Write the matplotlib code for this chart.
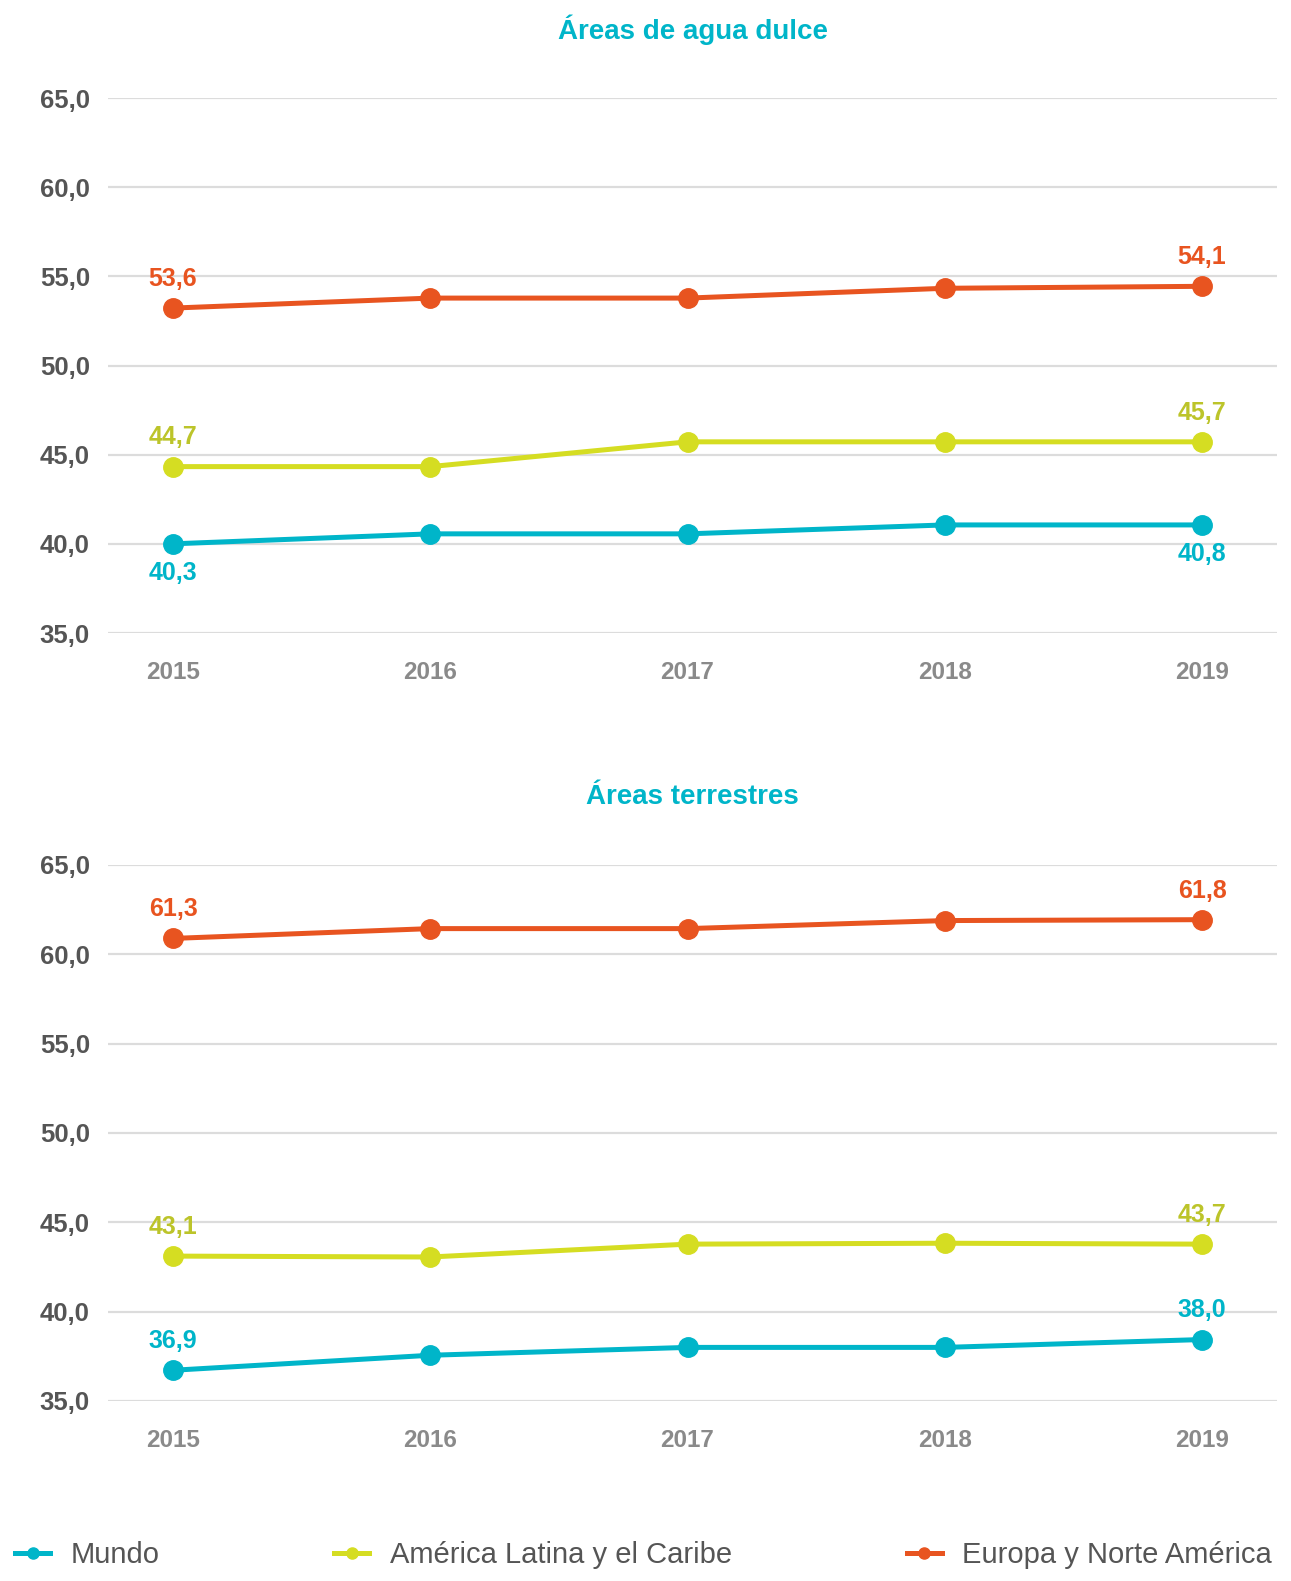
import matplotlib
matplotlib.use("Agg")
import matplotlib.pyplot as plt
from matplotlib.lines import Line2D

plt.rcParams['font.family'] = ['Liberation Sans', 'DejaVu Sans']

# Datos
years = [2015, 2016, 2017, 2018, 2019]
series_names = ["Mundo", "América Latina y el Caribe", "Europa y Norte América"]
colors = ["#00b5c9", "#d5dd22", "#e85420"]
label_colors = ["#00b5c9", "#bcc42a", "#e85420"]

# Áreas de agua dulce
agua_mundo = [40.0, 40.56, 40.56, 41.06, 41.06]
agua_alc = [44.33, 44.33, 45.72, 45.72, 45.72]
agua_eur = [53.22, 53.78, 53.78, 54.33, 54.44]
agua_labels = [("40,3", "40,8"), ("44,7", "45,7"), ("53,6", "54,1")]
agua_label_pos = ["below", "above", "above"]

# Áreas terrestres
terr_mundo = [36.72, 37.56, 38.0, 38.0, 38.44]
terr_alc = [43.11, 43.06, 43.78, 43.83, 43.78]
terr_eur = [60.89, 61.44, 61.44, 61.89, 61.94]
terr_labels = [("36,9", "38,0"), ("43,1", "43,7"), ("61,3", "61,8")]
terr_label_pos = ["above", "above", "above"]

yticks = [35, 40, 45, 50, 55, 60, 65]
title_color = "#00b5c9"

W, H = 1291, 1581
fig = plt.figure(figsize=(W / 100, H / 100), dpi=100)


def draw_panel(rect, title, title_y, data, labels, positions):
    ax = fig.add_axes(rect)
    for vals, col, lcol, (l0, l1), pos in zip(data, colors, label_colors, labels, positions):
        ax.plot(years, vals, color=col, lw=3.6, marker='o', ms=14, zorder=3,
                solid_capstyle='round')
        dy = 21 if pos == "above" else -21
        for x, v, txt in [(years[0], vals[0], l0), (years[-1], vals[-1], l1)]:
            ax.annotate(txt, (x, v), xytext=(0, dy), textcoords='offset points',
                        ha='center', va='center', color=lcol, fontsize=18,
                        fontweight='bold')
    ax.set_ylim(35, 65)
    ax.set_xlim(2015 - 0.2527, 2019 + 0.2915)
    ax.set_yticks(yticks)
    ax.set_yticklabels([f"{t},0" for t in yticks])
    ax.set_xticks(years)
    ax.grid(axis='y', color='#dcdcdc', lw=1.6, zorder=0)
    ax.grid(axis='x', visible=False)
    for s in ax.spines.values():
        s.set_visible(False)
    ax.tick_params(axis='y', length=0, pad=13, labelsize=18.5, labelcolor='#555555')
    ax.tick_params(axis='x', length=0, pad=20, labelsize=17.5, labelcolor='#8a8a8a')
    for lab in ax.get_xticklabels() + ax.get_yticklabels():
        lab.set_fontweight('bold')
    fig.text(692.5 / W, 1 - title_y / H, title, ha='center', va='center',
             color=title_color, fontsize=20, fontweight='bold')
    return ax


left = 108 / W
width = (1277 - 108) / W
draw_panel([left, 1 - 633 / H, width, (633 - 98) / H], "Áreas de agua dulce", 30,
           [agua_mundo, agua_alc, agua_eur], agua_labels, agua_label_pos)
draw_panel([left, 1 - 1401 / H, width, (1401 - 865) / H], "Áreas terrestres", 797,
           [terr_mundo, terr_alc, terr_eur], terr_labels, terr_label_pos)

handles = [Line2D([0], [0], color=c, lw=3.6, marker='o', ms=8) for c in colors]
leg = fig.legend(handles, series_names, loc='center left',
                 bbox_to_anchor=(15 / W, 1 - 1555 / H), bbox_transform=fig.transFigure,
                 ncol=3, frameon=False, fontsize=21, handlelength=1.2,
                 handletextpad=0.7, columnspacing=6.0, borderpad=0, borderaxespad=0)
for t in leg.get_texts():
    t.set_color('#555555')

fig.savefig("out.png", dpi=100)
